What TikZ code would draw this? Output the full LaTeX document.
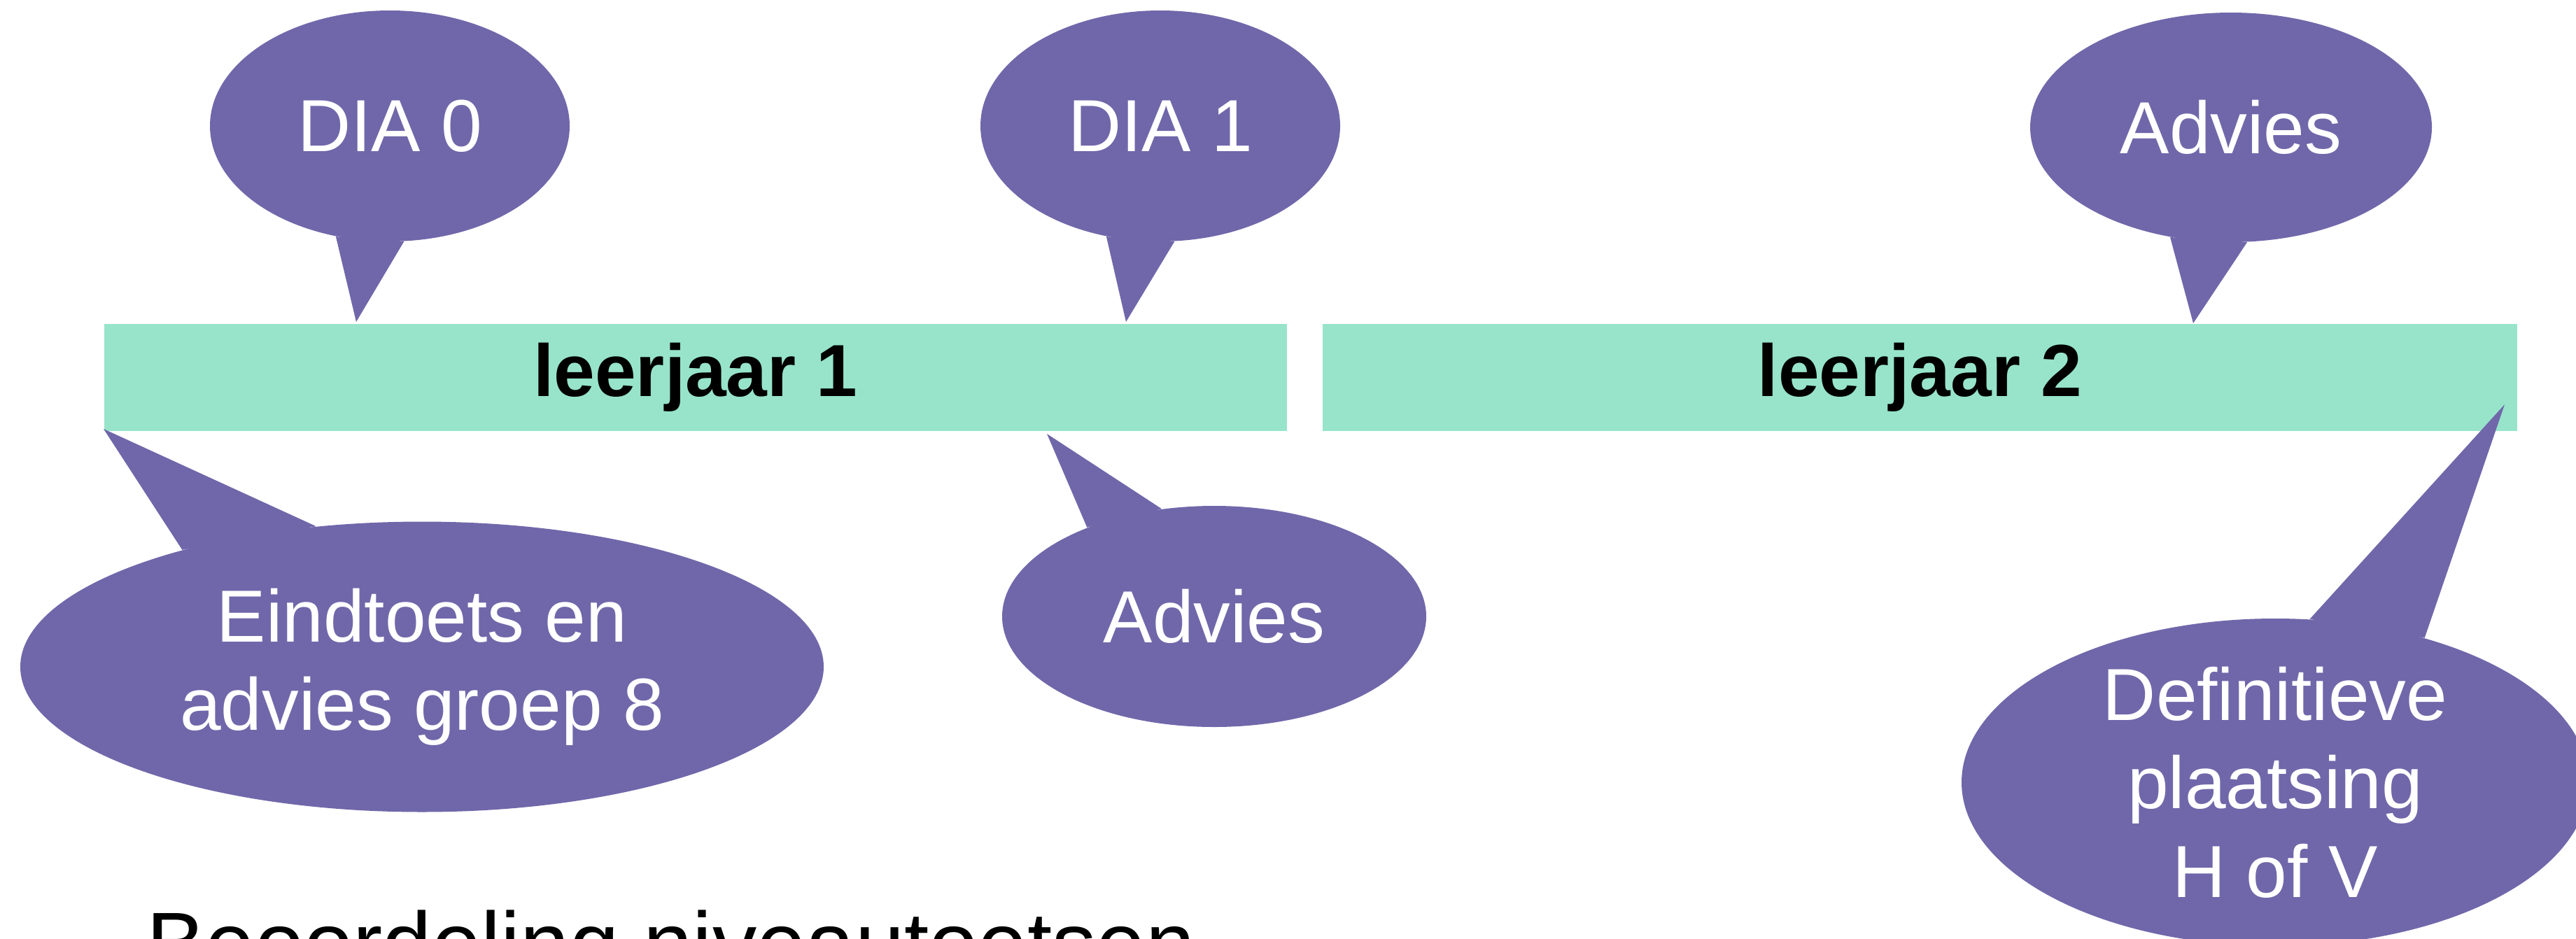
\documentclass[tikz,border=0pt]{standalone}
\usepackage{fontspec}
\setmainfont{Liberation Sans}
\usepackage{tikz}
\usetikzlibrary{shapes.geometric}
\definecolor{callout}{HTML}{7067AA}
\definecolor{year}{HTML}{97E4CB}
\tikzset{
  bar/.style={fill=year, inner sep=0pt, minimum height=1.53cm, font=\fontsize{30}{36}\selectfont\bfseries},
  bubble/.style={ellipse, fill=callout, inner sep=0pt, text=white, align=center, font=\fontsize{30}{36}\selectfont},
  wedge/.style={fill=callout},
  titel/.style={anchor=base west, font=\fontsize{36}{43}\selectfont},
}

\begin{document}
\begin{tikzpicture}
  \useasboundingbox (0,0) rectangle (36.81,13.41);
  % leerjaren
  \node[bar, minimum width=16.90cm] (jaar1) at (9.94,8.015) {leerjaar 1};
  \node[bar, minimum width=17.07cm] (jaar2) at (27.435,8.015) {leerjaar 2};
  % ballonnen
  \node[bubble, minimum width=5.14cm, minimum height=3.30cm] (dia0) at (5.57,11.61) {DIA 0};
  \node[bubble, minimum width=5.14cm, minimum height=3.30cm] (dia1) at (16.58,11.61) {DIA 1};
  \node[bubble, minimum width=5.74cm, minimum height=3.28cm] (adv1) at (31.88,11.59) {Advies};
  \node[bubble, minimum width=11.48cm, minimum height=4.15cm] (eind) at (6.03,3.88) {Eindtoets en\\advies groep 8};
  \node[bubble, minimum width=6.06cm, minimum height=3.16cm] (adv2) at (17.35,4.60) {Advies};
  \node[bubble, minimum width=8.96cm, minimum height=4.68cm, inner ysep=-6pt] (def) at (32.51,2.23) {Definitieve\\plaatsing\\H of V};
  % punten
  \coordinate (dia0-tip) at (5.09,8.81);
  \coordinate (dia1-tip) at (16.09,8.81);
  \coordinate (adv1-tip) at (31.34,8.79);
  \coordinate (eind-tip) at (1.48,7.28);
  \coordinate (adv2-tip) at (14.96,7.21);
  \coordinate (def-tip) at (35.79,7.63);
  \foreach \B/\l/\r in {dia0/244/277, dia1/244/277, adv1/241/278, eind/154/127, adv2/145/116, def/78/44}
    \fill[wedge] (\B.\l) -- (\B-tip) -- (\B.\r) -- cycle;
  \node[titel] (kop) at (1.97,-0.51) {Beoordeling niveautoetsen};
\end{tikzpicture}
\end{document}
